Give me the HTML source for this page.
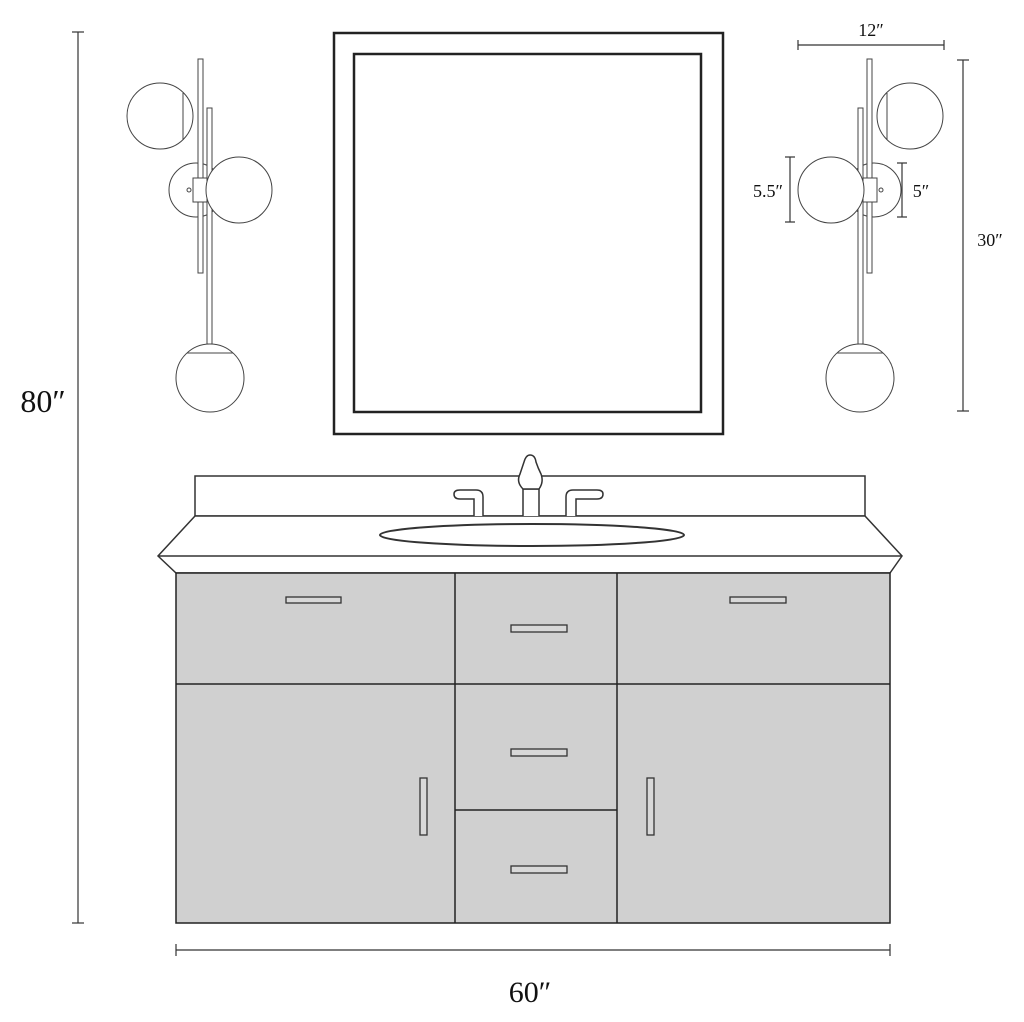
<!DOCTYPE html>
<html><head><style>html,body{margin:0;padding:0;background:#fff}svg{display:block}</style></head>
<body>
<svg width="1024" height="1022" viewBox="0 0 1024 1022" xmlns="http://www.w3.org/2000/svg" font-family="Liberation Serif, serif" fill="none" stroke="#222">
<defs>
<g id="sconce" stroke="#444" stroke-width="1">
  <circle cx="160" cy="116" r="33" fill="#fff"/>
  <line x1="183" y1="93" x2="183" y2="140"/>
  <circle cx="196" cy="190" r="27" fill="#fff"/>
  <rect x="198" y="59" width="5" height="214" fill="#fff"/>
  <rect x="207" y="108" width="5" height="236" fill="#fff"/>
  <rect x="193" y="178" width="14" height="24" fill="#fff"/>
  <circle cx="189" cy="190" r="2"/>
  <circle cx="239" cy="190" r="33" fill="#fff"/>
  <circle cx="210" cy="378" r="34" fill="#fff"/>
  <line x1="187" y1="353" x2="233" y2="353"/>
</g>
</defs>
<rect x="334" y="33" width="389" height="401" stroke-width="2.5"/>
<rect x="354" y="54" width="347" height="358" stroke-width="2.5"/>
<use href="#sconce"/>
<use href="#sconce" transform="translate(1070,0) scale(-1,1)"/>
<g stroke="#333" stroke-width="1.2">
<line x1="78" y1="32" x2="78" y2="923"/><line x1="72" y1="32" x2="84" y2="32"/><line x1="72" y1="923" x2="84" y2="923"/>
<line x1="176" y1="950" x2="890" y2="950"/><line x1="176" y1="944" x2="176" y2="956"/><line x1="890" y1="944" x2="890" y2="956"/>
<line x1="798" y1="45" x2="944" y2="45"/><line x1="798" y1="40" x2="798" y2="50"/><line x1="944" y1="40" x2="944" y2="50"/>
<line x1="963" y1="60" x2="963" y2="411"/><line x1="957" y1="60" x2="969" y2="60"/><line x1="957" y1="411" x2="969" y2="411"/>
<line x1="790" y1="157" x2="790" y2="222"/><line x1="785" y1="157" x2="795" y2="157"/><line x1="785" y1="222" x2="795" y2="222"/>
<line x1="902" y1="163" x2="902" y2="217"/><line x1="897" y1="163" x2="907" y2="163"/><line x1="897" y1="217" x2="907" y2="217"/>
</g>
<g fill="#111" stroke="none" text-anchor="middle">
<text x="43" y="412" font-size="32">80″</text>
<text x="530" y="1002" font-size="30">60″</text>
<text x="871" y="36" font-size="18">12″</text>
<text x="990" y="246" font-size="18">30″</text>
<text x="768" y="197" font-size="18">5.5″</text>
<text x="921" y="197" font-size="18">5″</text>
</g>
<g stroke="#333" stroke-width="1.5" fill="#fff">
<rect x="195" y="476" width="670" height="40"/>
<polygon points="195,516 865,516 902,556 890,573 176,573 158,556"/>
<line x1="158" y1="556" x2="902" y2="556"/>
<ellipse cx="532" cy="535" rx="152" ry="11" stroke-width="2"/>
<path d="M483,516 V497 Q483,490 476,490 H460 Q454,490 454,494 Q454,499 460,499 H474 V516"/>
<path d="M566,516 V497 Q566,490 573,490 H597 Q603,490 603,494 Q603,499 597,499 H576 V516"/>
<path d="M523,516 V489 H539 V516"/>
<path d="M523,489 Q516,482 520,474 Q522,468 524,462 Q526,455 530,455 Q535,455 536,462 Q538,468 541,474 Q544,482 539,489 Z"/>
</g>
<g stroke="#222" stroke-width="1.5">
<rect x="176" y="573" width="714" height="350" fill="#d0d0d0"/>
<line x1="455" y1="573" x2="455" y2="923"/>
<line x1="617" y1="573" x2="617" y2="923"/>
<line x1="176" y1="684" x2="890" y2="684"/>
<line x1="455" y1="810" x2="617" y2="810"/>
</g>
<g stroke="#333" stroke-width="1.3" fill="#d8d8d8">
<rect x="286" y="597" width="55" height="6"/>
<rect x="730" y="597" width="56" height="6"/>
<rect x="511" y="625" width="56" height="7"/>
<rect x="511" y="749" width="56" height="7"/>
<rect x="511" y="866" width="56" height="7"/>
<rect x="420" y="778" width="7" height="57"/>
<rect x="647" y="778" width="7" height="57"/>
</g>
</svg>
</body></html>
